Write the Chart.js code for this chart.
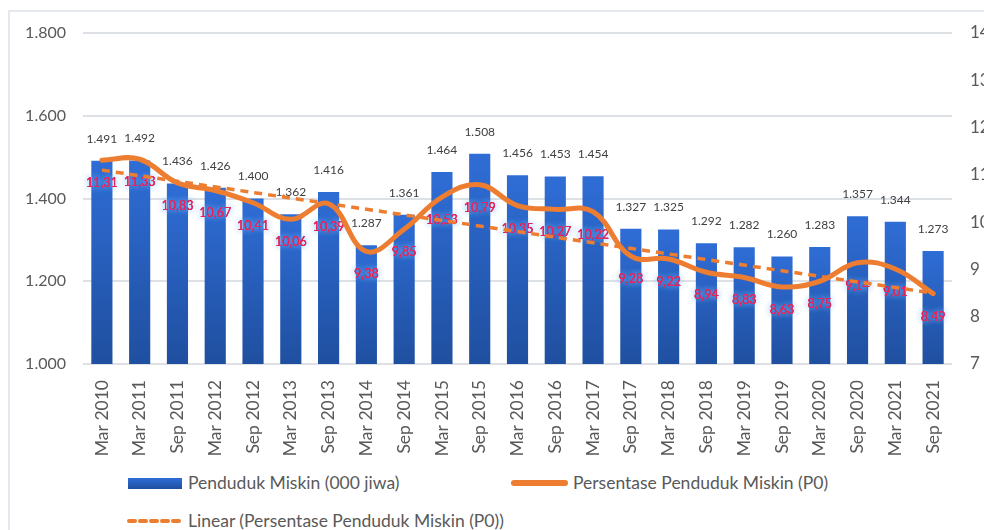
<!DOCTYPE html>
<html>
<head>
<meta charset="utf-8">
<script src="https://cdn.jsdelivr.net/npm/chart.js@4"></script>
<style>
  html, body { margin: 0; padding: 0; background: #fff; overflow: hidden; width: 984px; height: 530px; }
  body { position: relative; font-family: Lato, "Open Sans", sans-serif; color: #595959; }
  #frame { position: absolute; left: 8px; top: 10px; width: 1000px; height: 560px; border: 2px solid #e4e8ee; box-sizing: border-box; }
  #wrap { position: absolute; left: 0; top: 0; width: 1010px; height: 460px; }
  .lg { position: absolute; font-size: 17.5px; line-height: 20px; white-space: nowrap; }
</style>
</head>
<body>
<div id="frame"></div>
<div id="wrap"><canvas id="povChart" width="1010" height="460"></canvas></div>

<div style="position:absolute;left:128px;top:478px;width:54px;height:11px;background:linear-gradient(#2f6dd6,#1f4f9f);"></div>
<div class="lg" style="left:188px;top:473px;">Penduduk Miskin (000 jiwa)</div>
<div style="position:absolute;left:511px;top:480px;width:57px;height:6px;border-radius:3px;background:#ed7d31;"></div>
<div class="lg" style="left:573px;top:473px;">Persentase Penduduk Miskin (P0)</div>
<svg style="position:absolute;left:126px;top:516px;" width="60" height="10"><line x1="3" y1="5" x2="56" y2="5" stroke="#ed7d31" stroke-width="4" stroke-linecap="round" stroke-dasharray="6,5"/></svg>
<div class="lg" style="left:188px;top:511px;">Linear (Persentase Penduduk Miskin (P0))</div>

<script>
// ── Data ──
const periods = ['Mar 2010','Mar 2011','Sep 2011','Mar 2012','Sep 2012','Mar 2013','Sep 2013','Mar 2014',
  'Sep 2014','Mar 2015','Sep 2015','Mar 2016','Sep 2016','Mar 2017','Sep 2017','Mar 2018','Sep 2018',
  'Mar 2019','Sep 2019','Mar 2020','Sep 2020','Mar 2021','Sep 2021'];
const pendudukMiskin = [1491,1492,1436,1426,1400,1362,1416,1287,1361,1464,1508,1456,1453,1454,1327,1325,
  1292,1282,1260,1283,1357,1344,1273];
const persentaseP0 = [11.31,11.33,10.83,10.67,10.41,10.06,10.39,9.38,9.85,10.53,10.79,10.35,10.27,10.22,
  9.28,9.22,8.94,8.83,8.63,8.75,9.14,9.01,8.49];
// trend line end points
const trendP0 = [11.10,null,null,null,null,null,null,null,null,null,null,null,null,null,null,null,null,
  null,null,null,null,null,8.50];
const leftTicks = [1000,1200,1400,1600,1800];

const fmtThousand = v => String(v).replace(/\B(?=(\d{3})+(?!\d))/g, '.');
const fmtPct = v => v.toFixed(2).replace('.', ',');

const CANVAS_W = 1010, CANVAS_H = 460;
const AREA_L = 83, AREA_R = 952, AREA_T = 33, AREA_B = 364;

// ── Value labels (drawn right after the bars so the lines sit on top) ──
const labelPlugin = {
  id: 'valueLabels',
  afterDatasetDraw(chart, args) {
    if (args.index !== 0) return;
    const ctx = chart.ctx;
    ctx.save();
    ctx.textAlign = 'center';
    ctx.textBaseline = 'middle';
    // bar values
    ctx.font = '12px Lato, sans-serif';
    ctx.fillStyle = '#404040';
    chart.getDatasetMeta(0).data.forEach((bar, i) => {
      ctx.fillText(fmtThousand(pendudukMiskin[i]), bar.x, bar.y - 22);
    });
    // percentage values with a soft blue glow
    const pts = chart.getDatasetMeta(1).data;
    ctx.font = '12.5px Lato, sans-serif';
    pts.forEach((p, i) => {
      const txt = fmtPct(persentaseP0[i]);
      const y = chart.scales.y2.getPixelForValue(persentaseP0[i]) + 23;
      ctx.shadowColor = 'rgba(130,190,255,0.95)';
      ctx.shadowBlur = 6;
      ctx.fillStyle = '#e5245a';
      ctx.fillText(txt, p.x, y);
      ctx.fillText(txt, p.x, y);
      ctx.shadowBlur = 0;
      ctx.fillText(txt, p.x, y);
    });
    ctx.restore();
  }
};

function barGradient(c) {
  const chart = c.chart;
  const area = chart.chartArea;
  if (!area || c.dataIndex === undefined) return '#2a5fc4';
  const top = chart.scales.y.getPixelForValue(pendudukMiskin[c.dataIndex]);
  const g = chart.ctx.createLinearGradient(0, top, 0, area.bottom);
  g.addColorStop(0, '#2f6dd6');
  g.addColorStop(1, '#1f4f9f');
  return g;
}

const tickFont = { family: 'Lato, sans-serif', size: 16 };

new Chart(document.getElementById('povChart'), {
  type: 'bar',
  data: {
    labels: periods,
    datasets: [
      { type: 'bar', data: pendudukMiskin, yAxisID: 'y', order: 3,
        backgroundColor: barGradient, borderWidth: 0, categoryPercentage: 1, barPercentage: 0.56 },
      { type: 'line', data: persentaseP0, yAxisID: 'y2', order: 1,
        borderColor: '#ed7d31', borderWidth: 5, tension: 0.4, pointRadius: 0, fill: false,
        borderCapStyle: 'round', borderJoinStyle: 'round' },
      { type: 'line', data: trendP0, yAxisID: 'y2', order: 2, spanGaps: true,
        borderColor: '#ed7d31', borderWidth: 3.5, borderDash: [8, 6], tension: 0, pointRadius: 0, fill: false }
    ]
  },
  options: {
    responsive: false,
    animation: false,
    layout: { padding: { top: AREA_T, left: 0, right: 0, bottom: 0 } },
    plugins: { legend: { display: false }, tooltip: { enabled: false } },
    scales: {
      x: {
        grid: { display: false }, border: { display: false },
        ticks: { color: '#595959', font: { family: 'Lato, sans-serif', size: 17.5 }, minRotation: 90, maxRotation: 90, padding: 8, autoSkip: false },
        afterFit: s => { s.height = CANVAS_H - AREA_B; }
      },
      y: {
        position: 'left', min: 1000, max: 1800,
        afterBuildTicks: s => { s.ticks = leftTicks.map(v => ({ value: v })); },
        grid: { color: '#dde1e6', lineWidth: 2, drawTicks: false }, border: { display: false },
        ticks: { color: '#595959', font: tickFont, padding: 17, callback: v => fmtThousand(v) },
        afterFit: s => { s.width = AREA_L; }
      },
      y2: {
        position: 'right', min: 7, max: 14,
        grid: { display: false, drawTicks: false }, border: { display: false },
        ticks: { color: '#595959', font: { family: 'Lato, sans-serif', size: 17 }, stepSize: 1, padding: 18 },
        afterFit: s => { s.width = CANVAS_W - AREA_R; }
      }
    }
  },
  plugins: [labelPlugin]
});
</script>
</body>
</html>
